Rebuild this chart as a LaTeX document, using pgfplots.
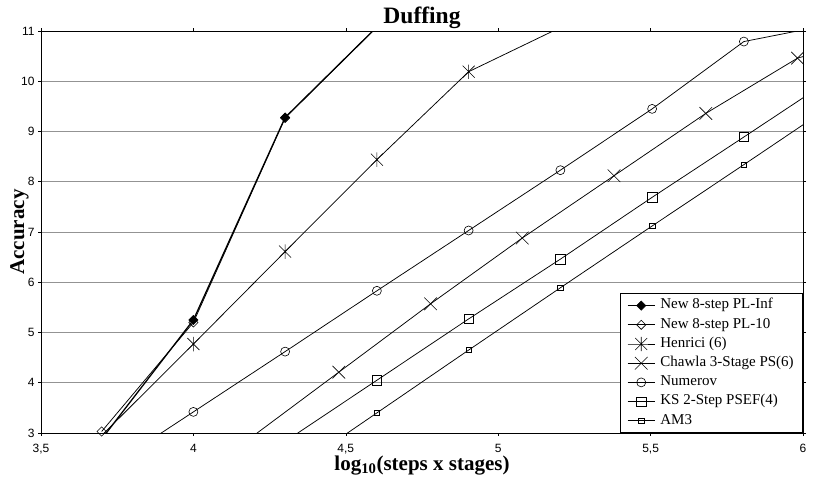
\documentclass[border=0pt]{standalone}
\usepackage{fontspec}
\setmainfont{Liberation Serif}
\newfontfamily\arial{Liberation Sans}
\usepackage{pgfplots}
\pgfplotsset{compat=1.18}
\pgfdeclareplotmark{xstar}{%
  \pgfpathmoveto{\pgfqpoint{-\pgfplotmarksize}{-\pgfplotmarksize}}%
  \pgfpathlineto{\pgfqpoint{\pgfplotmarksize}{\pgfplotmarksize}}%
  \pgfpathmoveto{\pgfqpoint{-\pgfplotmarksize}{\pgfplotmarksize}}%
  \pgfpathlineto{\pgfqpoint{\pgfplotmarksize}{-\pgfplotmarksize}}%
  \pgfpathmoveto{\pgfqpoint{0pt}{-1.2\pgfplotmarksize}}%
  \pgfpathlineto{\pgfqpoint{0pt}{1.2\pgfplotmarksize}}%
  \pgfusepathqstroke}
\pgfdeclareplotmark{bigx}{%
  \pgfpathmoveto{\pgfqpoint{-\pgfplotmarksize}{-\pgfplotmarksize}}%
  \pgfpathlineto{\pgfqpoint{\pgfplotmarksize}{\pgfplotmarksize}}%
  \pgfpathmoveto{\pgfqpoint{-\pgfplotmarksize}{\pgfplotmarksize}}%
  \pgfpathlineto{\pgfqpoint{\pgfplotmarksize}{-\pgfplotmarksize}}%
  \pgfusepathqstroke}
\pgfdeclareplotmark{rdiamond}{%
  \pgfpathmoveto{\pgfqpoint{0pt}{\pgfplotmarksize}}%
  \pgfpathlineto{\pgfqpoint{\pgfplotmarksize}{0pt}}%
  \pgfpathlineto{\pgfqpoint{0pt}{-\pgfplotmarksize}}%
  \pgfpathlineto{\pgfqpoint{-\pgfplotmarksize}{0pt}}%
  \pgfpathclose
  \pgfusepathqfillstroke}
\pgfdeclareplotmark{rdiamondopen}{%
  \pgfpathmoveto{\pgfqpoint{0pt}{\pgfplotmarksize}}%
  \pgfpathlineto{\pgfqpoint{\pgfplotmarksize}{0pt}}%
  \pgfpathlineto{\pgfqpoint{0pt}{-\pgfplotmarksize}}%
  \pgfpathlineto{\pgfqpoint{-\pgfplotmarksize}{0pt}}%
  \pgfpathclose
  \pgfusepathqstroke}
\begin{document}
\begin{tikzpicture}
\begin{axis}[
  scale only axis,
  width=762pt, height=402pt,
  xmin=3.5, xmax=6, ymin=3, ymax=11,
  xtick={3.5,4,4.5,5,5.5,6},
  xticklabels={{3,5},4,{4,5},5,{5,5},6},
  ytick={3,4,5,6,7,8,9,10,11},
  yticklabels={3,4,5,6,7,8,9,10,11},
  tick label style={font=\arial\fontsize{12}{14}\selectfont},
  xticklabel style={yshift=-4.5pt},
  yticklabel style={xshift=0pt},
  tick align=outside,
  major tick length=3pt,
  tick style={black, line width=0.6pt},
  ymajorgrids,
  grid style={gray!85, line width=0.7pt},
  axis line style={black, line width=0.8pt},
  title={Duffing},
  title style={font=\bfseries\fontsize{23.5}{27}\selectfont, at={(axis description cs:0.5,1.019)}, anchor=base, yshift=-6pt},
  xlabel={log\textsubscript{10}(steps x stages)},
  xlabel style={font=\bfseries\fontsize{21}{25}\selectfont, at={(axis description cs:0.5,-0.093)}, anchor=base},
  ylabel={Accuracy},
  ylabel style={font=\bfseries\fontsize{21}{25}\selectfont, at={(axis description cs:-0.0223,0.5)}, anchor=base},
  legend style={at={(1,0)}, anchor=south east, draw=black, line width=0.6pt, fill=white,
    font=\fontsize{15}{18}\selectfont, inner xsep=7pt, inner ysep=2.3pt,
    nodes={inner sep=2pt, text height=11pt, text depth=4.2pt}, row sep=0pt,
    /tikz/every odd column/.style={column sep=3pt}},
  legend cell align=left,
  legend image code/.code={\draw[mark repeat=2,mark phase=2] plot coordinates {(0pt,0pt) (13.5pt,0pt) (27pt,0pt)};},
  every axis plot/.append style={black, line width=0.75pt},
]
\coordinate (O) at (rel axis cs:0,0);
% New 8-step PL-Inf
\addplot[line width=1.3pt, mark=rdiamond, mark size=4.6pt, mark options={fill=black, line width=0.6pt}]
  coordinates {(3.699,2.88) (4.000,5.25) (4.301,9.28) (4.602,11.08)};
\addlegendentry{New 8-step PL-Inf}
% New 8-step PL-10
\addplot[mark=rdiamondopen, mark size=4.6pt, mark options={line width=0.6pt}]
  coordinates {(3.699,3.03) (4.000,5.20) (4.301,9.27) (4.602,11.08)};
\addlegendentry{New 8-step PL-10}
% Henrici (6)
\addplot[mark=xstar, mark size=6pt, mark options={line width=0.6pt}]
  coordinates {(3.699,2.95) (4.000,4.77) (4.301,6.61) (4.602,8.44) (4.903,10.19) (5.204,11.07)};
\addlegendentry{Henrici (6)}
% Chawla 3-Stage PS(6)
\addplot[mark=bigx, mark size=6.3pt, mark options={line width=0.6pt}]
  coordinates {(4.176,2.85) (4.477,4.21) (4.778,5.57) (5.079,6.88) (5.380,8.12) (5.681,9.36) (5.982,10.46) (6.283,10.98)};
\addlegendentry{Chawla 3-Stage PS(6)}
% Numerov
\addplot[mark=o, mark size=4.5pt, mark options={fill=white, line width=0.6pt}]
  coordinates {(3.699,2.22) (4.000,3.42) (4.301,4.62) (4.602,5.83) (4.903,7.03) (5.204,8.23) (5.505,9.45) (5.806,10.79) (6.107,11.15)};
\addlegendentry{Numerov}
% KS 2-Step PSEF(4)
\addplot[mark=square, mark size=4.7pt, mark options={fill=white, line width=0.6pt}]
  coordinates {(4.301,2.83) (4.602,4.05) (4.903,5.27) (5.204,6.46) (5.505,7.69) (5.806,8.89) (6.107,10.10)};
\addlegendentry{KS 2-Step PSEF(4)}
% AM3
\addplot[mark=square, mark size=2.7pt, mark options={fill=gray!40, line width=0.6pt}]
  coordinates {(4.301,2.15) (4.602,3.40) (4.903,4.65) (5.204,5.89) (5.505,7.12) (5.806,8.34) (6.107,9.57)};
\addlegendentry{AM3}
\end{axis}
\pgfresetboundingbox
\path (O) ++(-41pt,-48pt) rectangle ++(830pt,481pt);
\end{tikzpicture}
\end{document}
